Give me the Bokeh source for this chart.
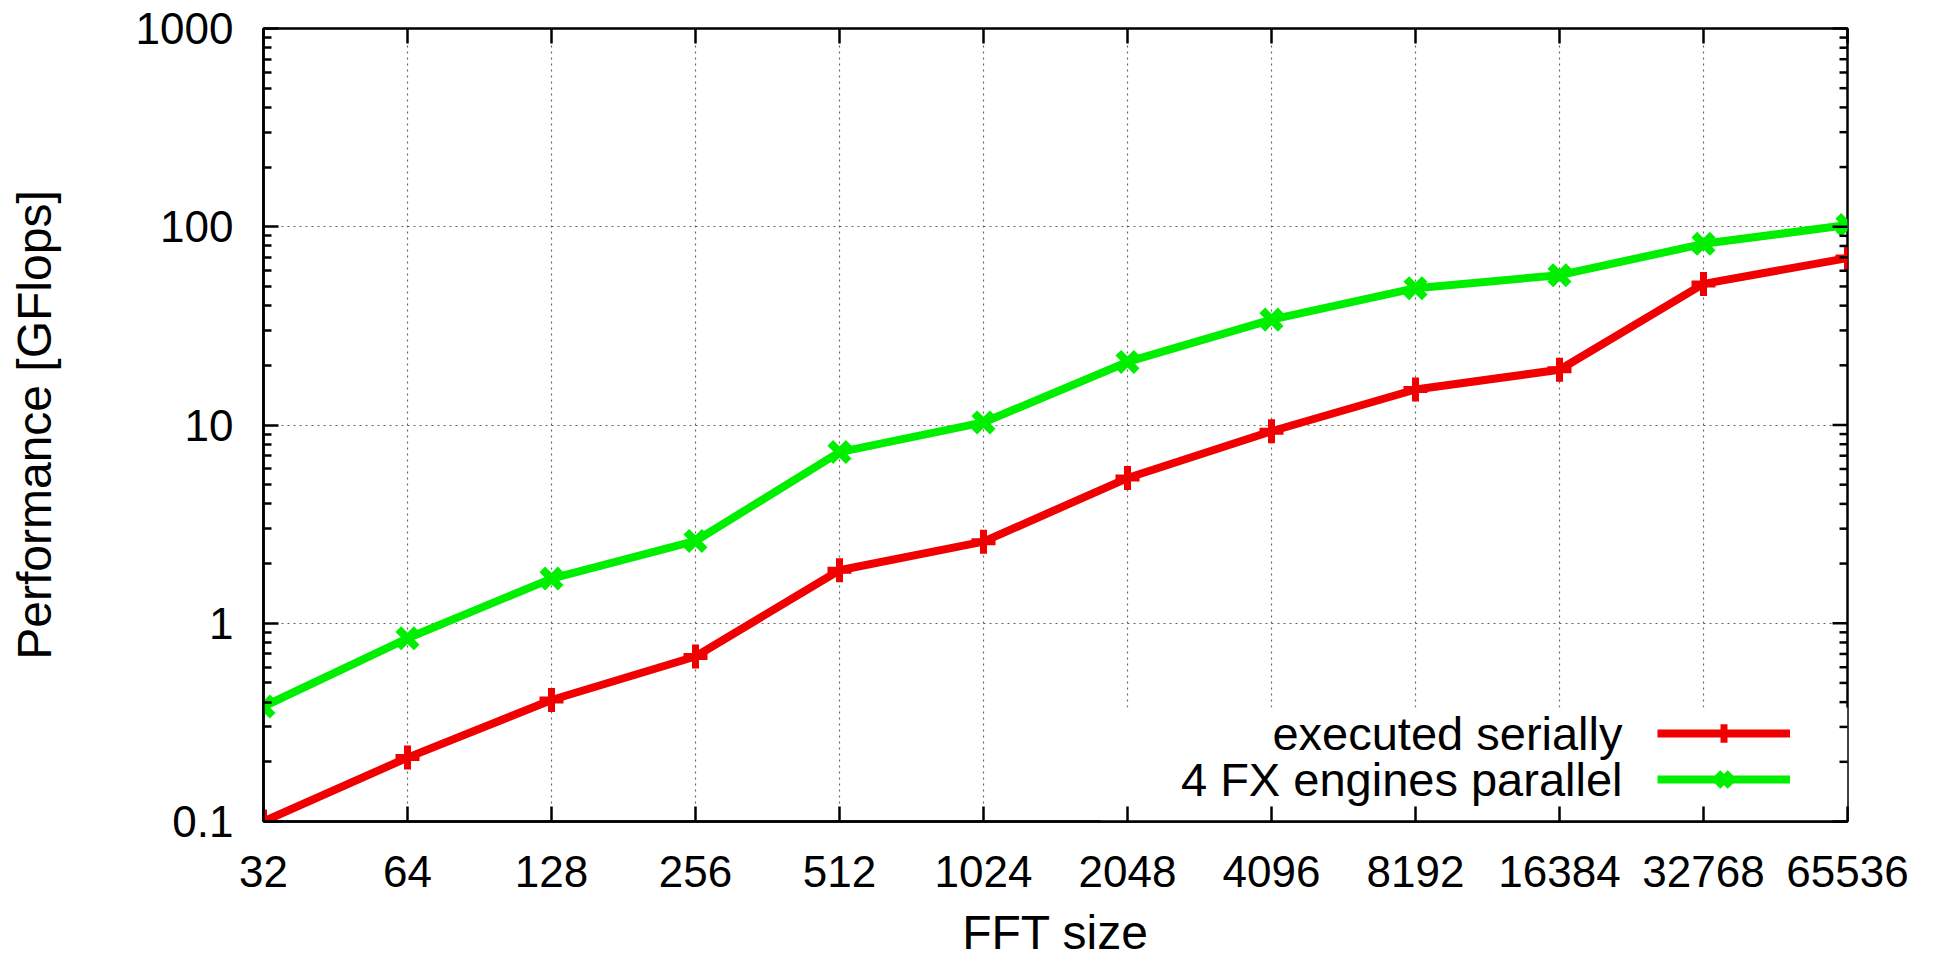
import math
from bokeh.plotting import figure
from bokeh.models import (Range1d, FixedTicker, CustomJSTickFormatter,
                          Legend, LegendItem, Label, BoxAnnotation, ColumnDataSource)
from bokeh.embed import file_html
from bokeh.resources import INLINE

# ---- data ----
fft_sizes = [32, 64, 128, 256, 512, 1024, 2048, 4096, 8192, 16384, 32768, 65536]
serial = [0.1, 0.21, 0.41, 0.68, 1.85, 2.58, 5.4, 9.3, 15.1, 19.0, 51.5, 69.5]
parallel = [0.38, 0.84, 1.68, 2.6, 7.3, 10.3, 20.8, 34.0, 49.0, 57.0, 82.0, 102.0]
y_major = [0.1, 1, 10, 100, 1000]
series_names = ["executed serially", "4 FX engines parallel"]
x_title = "FFT size"
y_title = "Performance [GFlops]"

FONT = "Liberation Sans"
RED = "#f00000"
GREEN = "#00ee00"

W, H = 1939, 963
BL, BR, BT, BB = 263, 92, 28, 142
FW, FH = W - BL - BR, H - BT - BB

y_minor = [m * 10.0 ** e for e in range(-1, 3) for m in range(2, 10)]

xmin, xmax = fft_sizes[0], fft_sizes[-1]
ymin, ymax = y_major[0], y_major[-1]

p = figure(width=W, height=H, x_axis_type="log", y_axis_type="log",
           x_range=Range1d(xmin, xmax), y_range=Range1d(ymin, ymax),
           output_backend="svg", toolbar_location=None,
           min_border_left=BL, min_border_right=BR, min_border_top=BT,
           min_border_bottom=BB)
p.outline_line_color = "black"
p.outline_line_width = 2.5
p.background_fill_color = "white"
p.border_fill_color = "white"

xt = FixedTicker(ticks=fft_sizes, minor_ticks=[])
yt = FixedTicker(ticks=y_major, minor_ticks=y_minor)
fmt = CustomJSTickFormatter(code="return tick.toString();")

def style_axis(ax):
    ax.axis_line_color = "black"
    ax.axis_line_width = 2.5
    ax.major_tick_line_color = "black"
    ax.major_tick_line_width = 2.5
    ax.minor_tick_line_color = "black"
    ax.minor_tick_line_width = 2.5
    ax.major_tick_in = 15
    ax.major_tick_out = 0
    ax.minor_tick_in = 8
    ax.minor_tick_out = 0
    ax.major_label_text_font = FONT
    ax.major_label_text_color = "black"
    ax.major_label_text_font_size = "44px"
    ax.axis_label_text_font = FONT
    ax.axis_label_text_font_style = "normal"
    ax.axis_label_text_color = "black"
    ax.axis_label_text_font_size = "48px"

xa = p.xaxis[0]
xa.ticker = xt
xa.formatter = fmt
style_axis(xa)
xa.major_label_standoff = 34
xa.axis_label = x_title
xa.axis_label_standoff = 16

ya = p.yaxis[0]
ya.ticker = yt
ya.formatter = fmt
style_axis(ya)
ya.major_label_standoff = 30
ya.axis_label = y_title
ya.axis_label_standoff = 72

for g, t in ((p.xgrid[0], xt), (p.ygrid[0], yt)):
    g.ticker = t
    g.grid_line_color = "#666666"
    g.grid_line_width = 1.2
    g.grid_line_dash = "2 4"
    g.minor_grid_line_color = None

# mirrored inward ticks on the top and right borders (gnuplot style)
px_per_oct = FW / math.log2(xmax / xmin)
px_per_dec = FH / math.log10(ymax / ymin)
top_y1 = ymax / 10 ** (15 / px_per_dec)
p.segment(x0=fft_sizes, y0=[ymax] * len(fft_sizes), x1=fft_sizes,
          y1=[top_y1] * len(fft_sizes), line_color="black", line_width=2.5,
          level="guide")
rx_major = xmax / 2 ** (15 / px_per_oct)
rx_minor = xmax / 2 ** (8 / px_per_oct)
p.segment(x0=[xmax] * len(y_major), y0=y_major, x1=[rx_major] * len(y_major),
          y1=y_major, line_color="black", line_width=2.5, level="guide")
p.segment(x0=[xmax] * len(y_minor), y0=y_minor, x1=[rx_minor] * len(y_minor),
          y1=y_minor, line_color="black", line_width=2.5, level="guide")

# opaque key area (hides grid behind the key, like gnuplot)
p.add_layout(BoxAnnotation(left=837, right=FW, bottom=0, top=114,
                           left_units="screen", right_units="screen",
                           top_units="screen", bottom_units="screen",
                           fill_color="white", fill_alpha=1.0, line_color=None,
                           level="glyph"))

src = ColumnDataSource(dict(x=fft_sizes, s=serial, q=parallel))
r1 = p.line("x", "s", source=src, line_color=RED, line_width=8)
m1 = p.scatter("x", "s", source=src, marker="cross", size=24, line_width=7,
               line_color=RED, fill_color=RED)
r2 = p.line("x", "q", source=src, line_color=GREEN, line_width=8)
m2 = p.scatter("x", "q", source=src, marker="x", size=26, line_width=8,
               line_color=GREEN, fill_color=GREEN)

legend = Legend(items=[LegendItem(label=" ", renderers=[r1, m1]),
                       LegendItem(label=" ", renderers=[r2, m2])],
                location=(1394, 19), glyph_width=133, glyph_height=46,
                label_width=0, label_standoff=0, padding=0, margin=0, spacing=0,
                border_line_alpha=0, background_fill_alpha=0,
                label_text_font_size="2px")
p.add_layout(legend)

for name, yy in zip(series_names, (88, 42)):
    p.add_layout(Label(x=1359, y=yy, x_units="screen", y_units="screen", text=name,
                       text_align="right", text_baseline="middle",
                       text_font=FONT, text_font_size="47px", text_color="black"))

open("out.html", "w").write(file_html(p, INLINE))
